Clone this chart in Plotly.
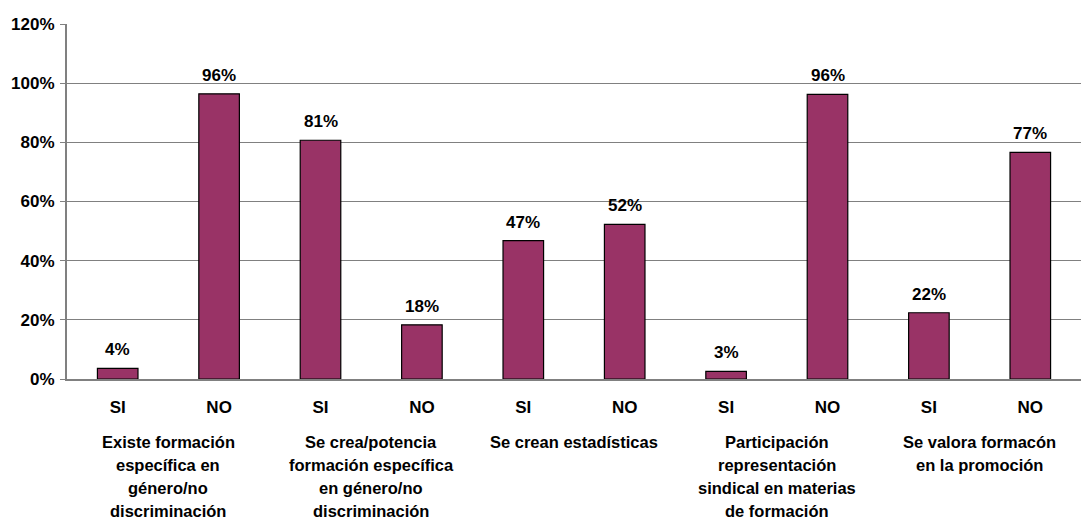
import plotly.graph_objects as go

answers = ["SI", "NO", "SI", "NO", "SI", "NO", "SI", "NO", "SI", "NO"]
values = [0.036, 0.964, 0.807, 0.183, 0.468, 0.523, 0.026, 0.962, 0.224, 0.766]
groups = [
    ["Existe formación", "específica en", "género/no", "discriminación"],
    ["Se crea/potencia", "formación específica", "en género/no", "discriminación"],
    ["Se crean estadísticas"],
    ["Participación", "representación", "sindical en materias", "de formación"],
    ["Se valora formacón", "en la promoción"],
]
y_ticks = [0, 0.2, 0.4, 0.6, 0.8, 1.0, 1.2]

positions = list(range(len(values)))
bold = dict(family="Arial, Liberation Sans", size=17, color="black", weight="bold")

fig = go.Figure(go.Bar(
    x=positions,
    y=values,
    width=0.4,
    marker=dict(color="#993366", line=dict(color="black", width=1.2)),
    hoverinfo="skip",
))

# value labels above the bars
for x, v in zip(positions, values):
    fig.add_annotation(
        x=x, y=v, xref="x", yref="y", yanchor="bottom", yshift=7,
        text=f"{v:.0%}", showarrow=False, font=bold,
    )

# group labels under the SI/NO pairs
for g, lines in enumerate(groups):
    for i, line in enumerate(lines):
        fig.add_annotation(
            x=2 * g + 0.5, xref="x", y=0, yref="paper",
            yanchor="top", yshift=-52 - 23 * i,
            text=line, showarrow=False,
            font=dict(family="Arial, Liberation Sans", size=16.5, color="black", weight="bold"),
        )

fig.update_xaxes(
    tickmode="array", tickvals=positions, ticktext=answers,
    range=[-0.5, len(values) - 0.5],
    tickfont=bold, ticklabelstandoff=12,
    showgrid=False, zeroline=False,
    showline=True, linecolor="#808080", linewidth=2,
)
fig.update_yaxes(
    range=[0, 1.2], tickvals=y_ticks, tickformat=".0%",
    tickfont=bold, ticks="outside", ticklen=5, tickcolor="#808080",
    ticklabelstandoff=2,
    showgrid=True, gridcolor="#808080", gridwidth=1,
    showline=True, linecolor="#808080", linewidth=2,
    zeroline=False,
)
fig.update_layout(
    width=1082, height=517,
    margin=dict(l=67, r=1, t=24, b=138),
    plot_bgcolor="white", paper_bgcolor="white",
    showlegend=False,
    bargap=0.6,
)

fig.write_html("out.html", config={"displayModeBar": False},
               post_script="document.body.style.margin='0px';")
